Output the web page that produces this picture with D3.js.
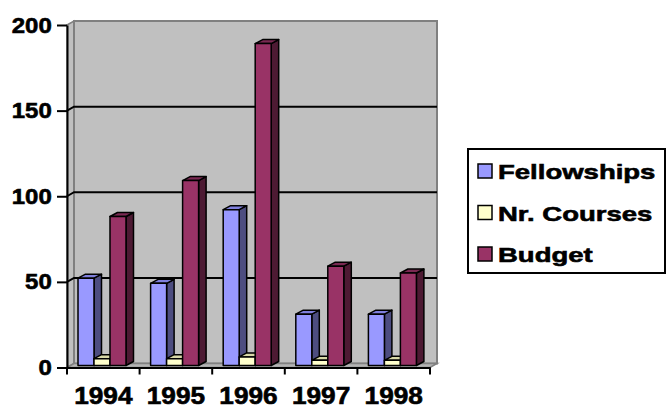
<!DOCTYPE html>
<html>
<head>
<meta charset="utf-8">
<script src="https://cdn.jsdelivr.net/npm/d3@7"></script>
<style>
  body { margin: 0; background: #fff; }
  svg text { font-family: Arial, "Liberation Sans", sans-serif; font-weight: 700; fill: #000; stroke: #000; stroke-width: 0.6px; }
</style>
</head>
<body>
<div id="chart"></div>
<script>
const years = ['1994', '1995', '1996', '1997', '1998'];
const seriesNames = ['Fellowships', 'Nr. Courses', 'Budget'];
const fellowships = [51, 48, 91, 30, 30];
const courses = [4, 4, 5, 3, 3];
const budget = [87, 108, 188, 58, 54];
const yTicks = [0, 50, 100, 150, 200];

const width = 666;
const height = 407;
const plot = { left: 67, right: 430, top: 25, bottom: 367.5 };
const depth = { dx: 7, dy: -4 };
const barDepth = { dx: 7.5, dy: -4 };
const font = 'Arial, "Liberation Sans", sans-serif';

// front, top, side colours per series
const colors = [
    { front: '#9999ff', top: '#7f7fdc', side: '#4d4d80' },
    { front: '#ffffcc', top: '#d9d9a8', side: '#808066' },
    { front: '#993366', top: '#7a2952', side: '#4d1a33' },
];

const values = [fellowships, courses, budget];

const svg = d3.select('#chart')
    .append('svg')
    .attr('width', width)
    .attr('height', height);

const y = d3.scaleLinear()
    .domain([0, 200])
    .range([plot.bottom, plot.top]);

const x = d3.scaleBand()
    .domain(years)
    .range([plot.left, plot.right])
    .paddingInner(0.339)
    .paddingOuter(0.1695);

const xs = d3.scaleBand()
    .domain(seriesNames)
    .range([0, x.bandwidth()]);

const bounds = d3.scaleLinear()
    .domain([0, years.length])
    .range([plot.left, plot.right]);

const pts = p => p.map(d => d.join(',')).join(' ');

// walls and floor
const bx0 = plot.left + depth.dx;
const bx1 = plot.right + depth.dx;
const by0 = plot.top + depth.dy;
const by1 = plot.bottom + depth.dy;

svg.append('polygon')
    .attr('points', pts([[plot.left, plot.top], [bx0, by0], [bx0, by1], [plot.left, plot.bottom]]))
    .attr('fill', '#c0c0c0')
    .attr('stroke', '#808080')
    .attr('stroke-width', 1.5);

svg.append('rect')
    .attr('x', bx0)
    .attr('y', by0)
    .attr('width', bx1 - bx0)
    .attr('height', by1 - by0)
    .attr('fill', '#c0c0c0')
    .attr('stroke', '#808080')
    .attr('stroke-width', 2);

svg.append('polygon')
    .attr('points', pts([[plot.left, plot.bottom], [bx0, by1], [bx1, by1], [plot.right, plot.bottom]]))
    .attr('fill', '#b4b4b4')
    .attr('stroke', '#808080')
    .attr('stroke-width', 1.5);

// gridlines on left and back walls
svg.append('g')
    .selectAll('path')
    .data(yTicks.filter(v => v > 0 && v < 200))
    .enter()
    .append('path')
    .attr('d', v => `M${plot.left},${y(v)}L${bx0},${y(v) + depth.dy}L${bx1},${y(v) + depth.dy}`)
    .attr('fill', 'none')
    .attr('stroke', '#000')
    .attr('stroke-width', 2);

// bars
const bars = [];
years.forEach((yr, i) => {
    seriesNames.forEach((s, j) => {
        bars.push({ yr, s, j, v: values[j][i] });
    });
});

const barG = svg.append('g')
    .selectAll('g')
    .data(bars)
    .enter()
    .append('g')
    .attr('stroke', '#000')
    .attr('stroke-width', 1.5)
    .attr('stroke-linejoin', 'round');

const bxPos = d => x(d.yr) + xs(d.s) - 1.3;
const bTop = d => y(d.v) - 2;
const bBase = () => y(0) - 2;
const bw = xs.bandwidth();

barG.append('polygon')
    .attr('points', d => pts([
        [bxPos(d) + bw, bTop(d)],
        [bxPos(d) + bw + barDepth.dx, bTop(d) + barDepth.dy],
        [bxPos(d) + bw + barDepth.dx, bBase() + barDepth.dy],
        [bxPos(d) + bw, bBase()],
    ]))
    .attr('fill', d => colors[d.j].side);

barG.append('polygon')
    .attr('points', d => pts([
        [bxPos(d), bTop(d)],
        [bxPos(d) + barDepth.dx, bTop(d) + barDepth.dy],
        [bxPos(d) + bw + barDepth.dx, bTop(d) + barDepth.dy],
        [bxPos(d) + bw, bTop(d)],
    ]))
    .attr('fill', d => colors[d.j].top);

barG.append('rect')
    .attr('x', bxPos)
    .attr('y', bTop)
    .attr('width', bw)
    .attr('height', d => bBase() - bTop(d))
    .attr('fill', d => colors[d.j].front);

// y axis
const yAxis = svg.append('g')
    .attr('transform', `translate(${plot.left},0)`)
    .call(d3.axisLeft(y).tickValues(yTicks).tickSize(10).tickSizeOuter(0).tickPadding(4));

yAxis.attr('font-family', font).attr('font-weight', 700);
yAxis.selectAll('path, line').attr('stroke', '#000').attr('stroke-width', 2);
yAxis.selectAll('text')
    .style('font-size', '22px')
    .attr('transform', 'scale(1.09,1)');

// x axis
const xAxis = svg.append('g')
    .attr('transform', `translate(0,${plot.bottom})`)
    .call(d3.axisBottom(x).tickSize(0).tickSizeOuter(0).tickPadding(20));

xAxis.attr('font-family', font).attr('font-weight', 700);
xAxis.select('.domain').attr('stroke', '#000').attr('stroke-width', 2);
xAxis.selectAll('text')
    .style('font-size', '23px')
    .attr('transform', 'scale(1.14,1)');

svg.append('g')
    .selectAll('line')
    .data(d3.range(years.length + 1))
    .enter()
    .append('line')
    .attr('x1', d => bounds(d))
    .attr('x2', d => bounds(d))
    .attr('y1', plot.bottom)
    .attr('y2', plot.bottom + 7)
    .attr('stroke', '#000')
    .attr('stroke-width', 2);

// legend
const legend = svg.append('g');

legend.append('rect')
    .attr('x', 468)
    .attr('y', 149)
    .attr('width', 197)
    .attr('height', 124)
    .attr('fill', '#fff')
    .attr('stroke', '#000')
    .attr('stroke-width', 2);

const item = legend.selectAll('g.item')
    .data(seriesNames)
    .enter()
    .append('g')
    .attr('class', 'item')
    .attr('transform', (d, i) => `translate(478,${179 + i * 41.5})`);

item.append('rect')
    .attr('x', 0)
    .attr('y', -15)
    .attr('width', 14)
    .attr('height', 14)
    .attr('fill', (d, i) => colors[i].front)
    .attr('stroke', '#000')
    .attr('stroke-width', 1.5);

item.append('text')
    .attr('transform', 'translate(20,0) scale(1.31,1)')
    .attr('font-family', font)
    .style('font-size', '21px')
    .text(d => d);
</script>
</body>
</html>
